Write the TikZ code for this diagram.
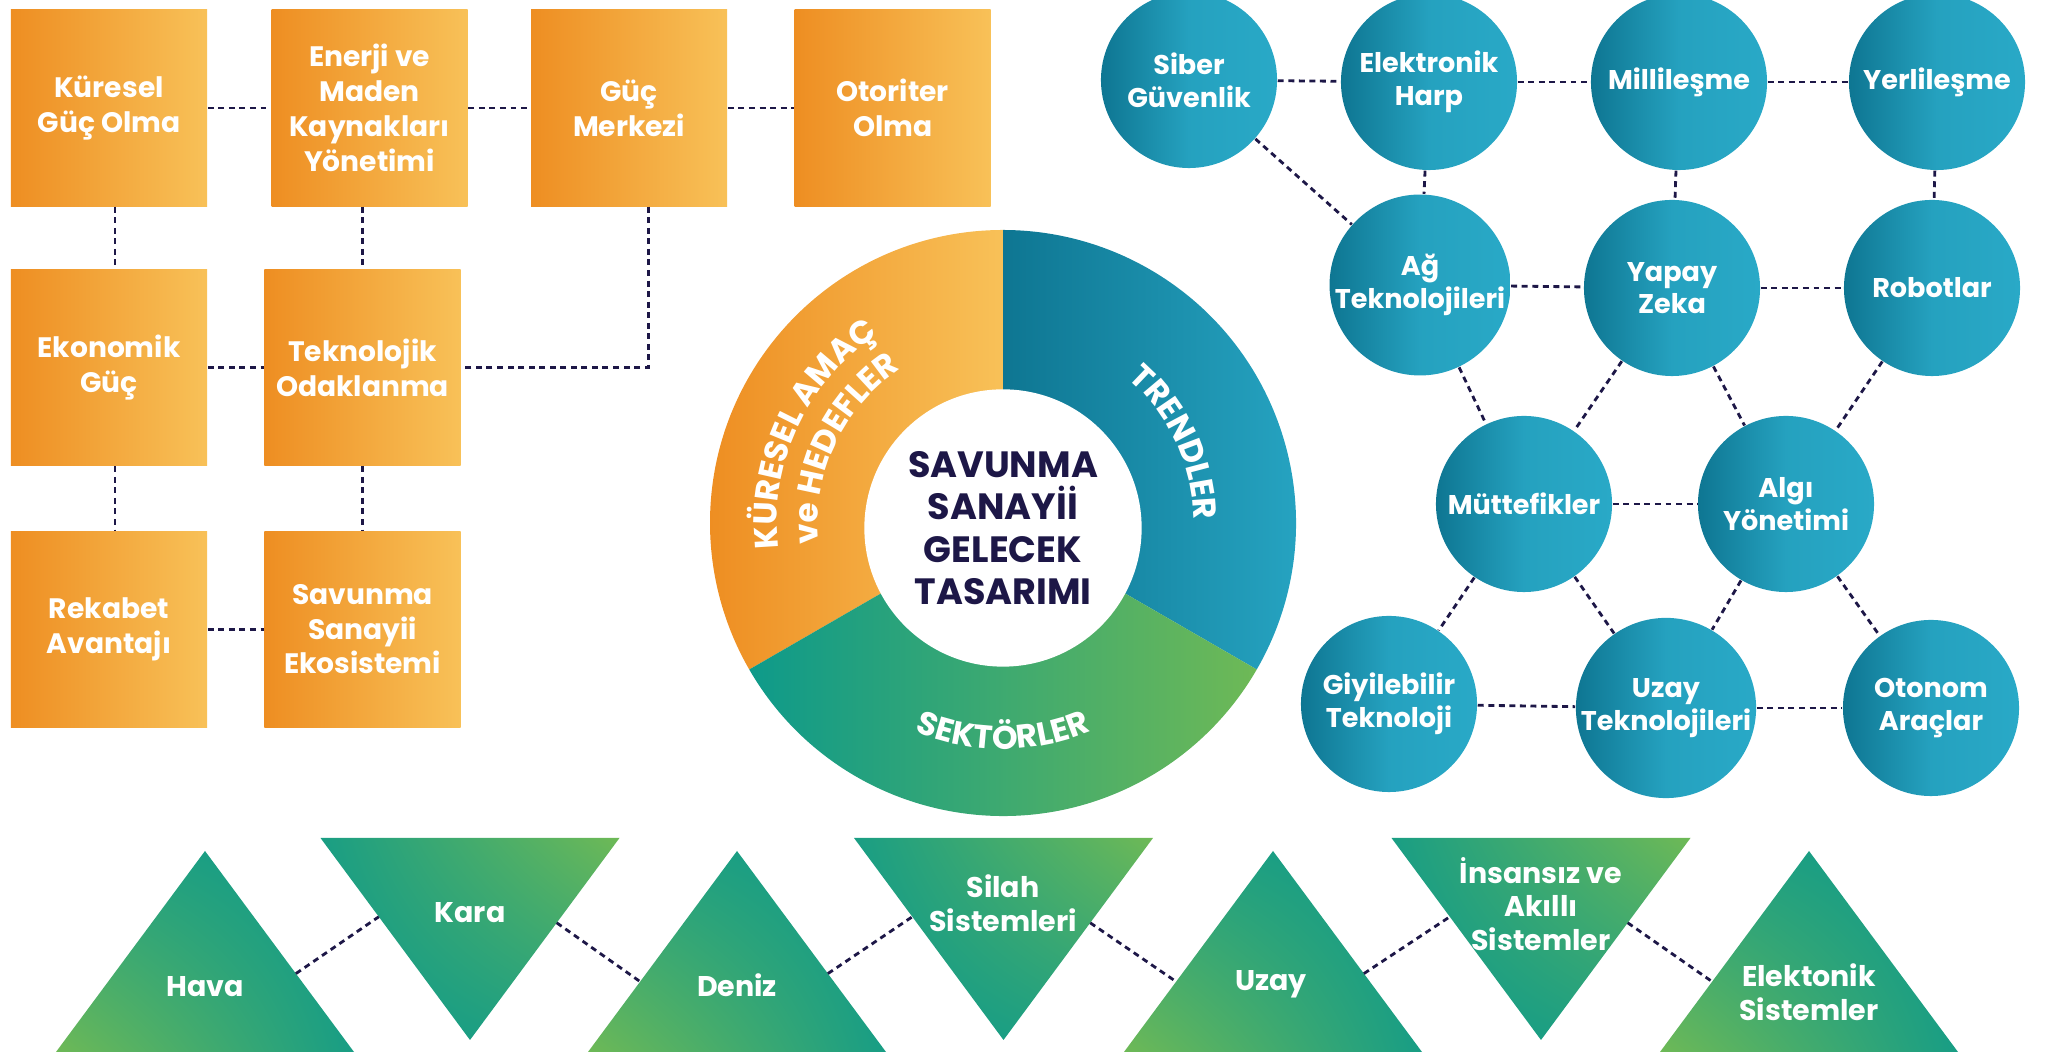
\documentclass[tikz,border=0pt]{standalone}
\usepackage{fontspec}
\setmainfont{Poppins}
\usetikzlibrary{positioning,calc,decorations.text,shadings}

\definecolor{orangeD}{HTML}{EE8E22}
\definecolor{orangeL}{HTML}{F8C158}
\definecolor{tealD}{HTML}{0E7692}
\definecolor{tealL}{HTML}{29A9C7}
\definecolor{triT}{HTML}{0E9A8A}
\definecolor{triG}{HTML}{6EB956}
\definecolor{navy}{HTML}{1D1747}

\newcommand\arcfont{\fontsize{9.3}{11}\selectfont\bfseries\color{white}}

\begin{document}
\begin{tikzpicture}[x=0.01cm,y=0.01cm,
  link/.style={navy,line width=0.8pt,dash pattern=on 1.7pt off 1.3pt},
  obox/.style={rectangle,minimum width=1.96cm,minimum height=1.96cm,inner sep=0pt,
    left color=orangeD,right color=orangeL,text=white,align=center,
    font=\fontsize{8}{9.9}\selectfont\bfseries},
  tcirc/.style={circle,minimum size=1.76cm,inner sep=0pt,
    left color=tealD,right color=tealL,middle color=tealL!85!tealD,text=white,align=center,
    font=\fontsize{7.7}{9.3}\selectfont\bfseries},
  core/.style={circle,minimum size=2.5cm,fill=white,text=navy,align=center,
    font=\fontsize{10.4}{12.1}\selectfont\bfseries},
  tlabel/.style={text=white,align=center,font=\fontsize{8.1}{9.6}\selectfont\bfseries},
  upshade/.style={lower left=triG,upper right=triT,upper left=triT!75!triG,lower right=triT!90!triG},
  downshade/.style={upper right=triG,lower left=triT,upper left=triT!88!triG,lower right=triT!75!triG}]
  \useasboundingbox (0,0) rectangle (2050,1061);

  % orange boxes
  \node[obox] (kuresel) at (109,953) {Küresel\\Güç Olma};
  \node[obox] (enerji) [right=0.63cm of kuresel] {Enerji ve\\Maden\\Kaynakları\\Yönetimi};
  \node[obox] (guc) [right=0.62cm of enerji] {Güç\\Merkezi};
  \node[obox] (otoriter) [right=0.66cm of guc] {Otoriter\\Olma};
  \node[obox] (ekonomik) [below=0.62cm of kuresel] {Ekonomik\\Güç};
  \node[obox] (tekno) [right=0.56cm of ekonomik] {Teknolojik\\Odaklanma};
  \node[obox] (rekabet) [below=0.64cm of ekonomik] {Rekabet\\Avantajı};
  \node[obox] (savsan) [below=0.64cm of tekno] {Savunma\\Sanayii\\Ekosistemi};

  \draw[link] (kuresel) -- (enerji);
  \draw[link] (enerji) -- (guc);
  \draw[link] (guc) -- (otoriter);
  \draw[link] ([xshift=0.06cm]kuresel.south) -- ([xshift=0.06cm]ekonomik.north);
  \draw[link] (tekno |- enerji.south) -- (tekno);
  \draw[link] (ekonomik) -- (tekno);
  \draw[link] ([xshift=0.19cm]guc.south) |- (tekno);
  \draw[link] ([xshift=0.06cm]ekonomik.south) -- ([xshift=0.06cm]rekabet.north);
  \draw[link] (tekno) -- (savsan);
  \draw[link] (rekabet) -- (savsan);

  % donut
  \begin{scope}[shift={(1003,538)}]
    \shade[left color=orangeD,right color=orangeL] (0,0) -- (90:293) arc[start angle=90,end angle=210,radius=293] -- cycle;
    \shade[left color=tealD,right color=tealL] (0,0) -- (-30:293) arc[start angle=-30,end angle=90,radius=293] -- cycle;
    \shade[left color=triT,right color=triG] (0,0) -- (210:293) arc[start angle=210,end angle=330,radius=293] -- cycle;
    \node[core] (core) at (0,-5) {SAVUNMA\\SANAYİİ\\GELECEK\\TASARIMI};
    \path[decorate,decoration={text along path,text align=center,text={|\arcfont|KÜRESEL AMAÇ}}]
      (205:226) arc[start angle=205,end angle=105,radius=226];
    \path[decorate,decoration={text along path,text align=center,text={|\arcfont|ve HEDEFLER}}]
      (205:185) arc[start angle=205,end angle=105,radius=185];
    \path[decorate,decoration={text along path,text align=center,text={|\arcfont|TRENDLER}}]
      (65:191) arc[start angle=65,end angle=-15,radius=191];
    \path[decorate,decoration={text along path,text align=center,text={|\arcfont|SEKTÖRLER}}]
      (225:226) arc[start angle=225,end angle=315,radius=226];
  \end{scope}

  % teal circles
  \node[tcirc] (siber) at (1189,981) {Siber\\Güvenlik};
  \node[tcirc] (elharp) at (1429,979) {Elektronik\\Harp};
  \node[tcirc] (milli) at (1679,979) {Millileşme};
  \node[tcirc] (yerli) at (1937,979) {Yerlileşme};
  \node[tcirc] (ag) at (1420,776) {Ağ\\Teknolojileri};
  \node[tcirc] (yapay) at (1672,773) {Yapay\\Zeka};
  \node[tcirc] (robot) at (1932,773) {Robotlar};
  \node[tcirc] (mutte) at (1524,557) {Müttefikler};
  \node[tcirc] (algi) at (1786,557) {Algı\\Yönetimi};
  \node[tcirc] (giyi) at (1389,357) {Giyilebilir\\Teknoloji};
  \node[tcirc] (uzayt) at (1666,353) {Uzay\\Teknolojileri};
  \node[tcirc] (oton) at (1931,353) {Otonom\\Araçlar};

  \draw[link] (siber) -- (elharp);
  \draw[link] (elharp) -- (milli);
  \draw[link] (milli) -- (yerli);
  \draw[link] (siber) -- (ag);
  \draw[link] (elharp) -- (ag);
  \draw[link] (milli) -- (yapay);
  \draw[link] (yerli) -- (robot);
  \draw[link] (ag) -- (yapay);
  \draw[link] (yapay) -- (robot);
  \draw[link] (ag) -- (mutte);
  \draw[link] (yapay) -- (mutte);
  \draw[link] (yapay) -- (algi);
  \draw[link] (robot) -- (algi);
  \draw[link] (mutte) -- (algi);
  \draw[link] (mutte) -- (giyi);
  \draw[link] (mutte) -- (uzayt);
  \draw[link] (algi) -- (uzayt);
  \draw[link] (algi) -- (oton);
  \draw[link] (giyi) -- (uzayt);
  \draw[link] (uzayt) -- (oton);

  % triangles
  \foreach \n/\x in {hava/205,deniz/737,uzay/1273,elsis/1809}
    \shade[upshade] (\x-149,9) coordinate (\n-l) -- (\x,210) coordinate (\n-a) -- (\x+149,9) coordinate (\n-r) -- cycle;
  \foreach \n/\x in {kara/470,silah/1003.5,insan/1541}
    \shade[downshade] (\x-149.5,223) coordinate (\n-l) -- (\x+149.5,223) coordinate (\n-r) -- (\x,21) coordinate (\n-b) -- cycle;

  \node[tlabel] (hava) at (205,74) {Hava};
  \node[tlabel] (kara) at (470,148) {Kara};
  \node[tlabel] (deniz) at (737,76) {Deniz};
  \node[tlabel] (silah) at (1003,158) {Silah\\Sistemleri};
  \node[tlabel] (uzay) at (1271,77) {Uzay};
  \node[tlabel] (insan) at (1541,157) {İnsansız ve\\Akıllı\\Sistemler};
  \node[tlabel] (elsis) at (1809,69) {Elektonik\\Sistemler};

  \draw[link] ($(hava-a)!0.61!(hava-r)$) -- ($(kara-l)!0.39!(kara-b)$);
  \draw[link] ($(kara-r)!0.42!(kara-b)$) -- ($(deniz-l)!0.35!(deniz-a)$);
  \draw[link] ($(deniz-a)!0.61!(deniz-r)$) -- ($(silah-l)!0.39!(silah-b)$);
  \draw[link] ($(silah-r)!0.42!(silah-b)$) -- ($(uzay-l)!0.35!(uzay-a)$);
  \draw[link] ($(uzay-a)!0.61!(uzay-r)$) -- ($(insan-l)!0.39!(insan-b)$);
  \draw[link] ($(insan-r)!0.42!(insan-b)$) -- ($(elsis-l)!0.35!(elsis-a)$);
\end{tikzpicture}
\end{document}
